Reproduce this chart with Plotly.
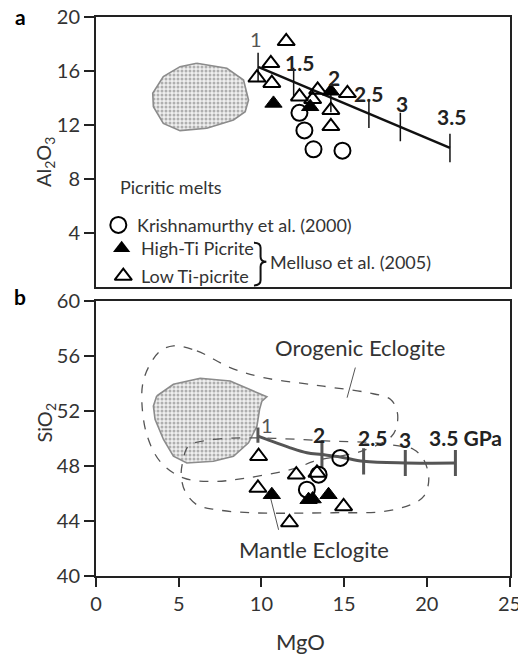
import plotly.graph_objects as go

# ---------------- data ----------------
# Panel a: Al2O3 vs MgO
krish_a_x = [12.3, 12.6, 13.15, 14.9]
krish_a_y = [12.9, 11.6, 10.2, 10.1]
hiTi_a_x = [10.73, 12.95, 14.2]
hiTi_a_y = [13.6, 13.35, 14.5]
loTi_a_x = [11.5, 10.57, 9.73, 10.63, 12.3, 13.4, 14.2, 14.2, 15.2, 13.1]
loTi_a_y = [18.2, 16.57, 15.5, 15.1, 14.1, 14.6, 13.1, 11.9, 14.35, 13.9]
melt_a_x = [9.8, 11.95, 14.2, 16.5, 18.4, 21.4]
melt_a_y = [16.3, 15.19, 14.0, 12.83, 11.85, 10.3]
press_labels = ["1", "1.5", "2", "2.5", "3", "3.5"]
field_a_x = [6.09, 7.91, 8.92, 9.22, 9.02, 8.31, 6.70, 5.08, 4.07, 3.47, 3.43, 4.07, 5.08, 6.09]
field_a_y = [16.57, 16.2, 15.33, 13.85, 12.99, 12.37, 11.76, 11.58, 12.12, 13.36, 14.35, 15.58, 16.32, 16.57]

# Panel b: SiO2 vs MgO
krish_b_x = [14.77, 13.46, 12.75]
krish_b_y = [48.59, 47.37, 46.28]
hiTi_b_x = [10.63, 12.85, 14.06, 13.1]
hiTi_b_y = [45.91, 45.55, 45.91, 45.6]
loTi_b_x = [9.83, 9.79, 12.11, 13.36, 14.97, 11.70]
loTi_b_y = [48.71, 46.40, 47.37, 47.50, 45.06, 43.89]
curve_b_x = [9.79, 10.33, 11.74, 12.75, 13.66, 14.77, 16.18, 18.7, 21.73]
curve_b_y = [50.17, 49.93, 49.32, 48.96, 48.83, 48.66, 48.34, 48.22, 48.22]
press_b_x = [9.79, 13.66, 16.18, 18.7, 21.73]
press_b_y = [50.25, 48.83, 48.34, 48.22, 48.22]
press_b_labels = ["1", "2", "2.5", "3", "3.5 GPa"]
field_b_x = [3.67, 4.68, 6.30, 8.11, 9.52, 10.33, 10.03, 9.89, 9.73, 9.22, 8.31, 7.10, 5.49, 4.68, 4.08, 3.57, 3.47, 3.67]
field_b_y = [53.09, 53.94, 54.38, 54.18, 53.45, 53.04, 52.72, 52.12, 50.90, 49.69, 48.71, 48.34, 48.22, 48.71, 49.93, 51.39, 52.36, 53.09]
orog_x = [4.68, 6.10, 8.11, 10.13, 12.95, 14.36, 16.39, 17.80, 18.20, 18.20, 17.86, 15.98, 13.15, 12.15, 9.12, 7.10, 5.28, 3.87, 3.07, 2.77, 2.86, 3.27, 3.87, 4.68]
orog_y = [56.74, 56.37, 55.16, 54.43, 53.94, 53.70, 53.34, 52.85, 51.99, 51.02, 50.15, 49.05, 48.34, 47.86, 47.13, 46.88, 47.13, 48.34, 50.29, 52.72, 54.18, 55.40, 56.35, 56.74]
mant_x = [5.69, 7.10, 9.32, 12.35, 14.35, 16.59, 18.40, 19.21, 19.81, 20.12, 19.81, 19.01, 17.37, 14.35, 9.32, 7.31, 6.10, 5.39, 5.15, 5.27, 5.45, 5.69]
mant_y = [49.56, 49.93, 50.05, 49.93, 49.80, 49.71, 49.44, 49.20, 48.47, 47.01, 45.79, 45.18, 44.69, 44.60, 44.60, 44.82, 45.18, 46.15, 47.37, 48.47, 49.20, 49.56]

x_ticks = [0, 5, 10, 15, 20, 25]
ya_ticks = [4, 8, 12, 16, 20]
yb_ticks = [40, 44, 48, 52, 56, 60]

FONT = "Lato"
OFF = 8                      # page body margin offset
W, H = 526 - OFF, 656 - OFF

def px(p):   # window x pixel -> paper x
    return (p - OFF) / W

def py(p):   # window y pixel -> paper y
    return 1 - (p - OFF) / H

xdom = [px(96), px(509.5)]
ya_dom = [py(287), py(17)]
yb_dom = [py(576), py(301)]

fig = go.Figure()

def add(tr, panel):
    if panel == "b":
        tr.update(xaxis="x2", yaxis="y2")
    fig.add_trace(tr)

stipple = dict(shape=".", size=4, solidity=0.45, fgcolor="#707070", bgcolor="#efefef")

for panel, fx, fy in (("a", field_a_x, field_a_y), ("b", field_b_x, field_b_y)):
    add(go.Scatter(x=fx, y=fy, mode="lines", fill="toself", fillpattern=stipple,
                   line=dict(color="#8c8c8c", width=1.6), hoverinfo="skip"), panel)

# dashed fields (panel b)
for fx, fy in ((orog_x, orog_y), (mant_x, mant_y)):
    add(go.Scatter(x=fx, y=fy, mode="lines", line=dict(color="#555", width=1.3, dash="dash", shape="spline"),
                   hoverinfo="skip"), "b")

# leader lines
add(go.Scatter(x=[15.68, 15.18], y=[55.16, 52.97], mode="lines", line=dict(color="#555", width=1)), "b")
add(go.Scatter(x=[11.04, 10.53], y=[43.36, 45.79], mode="lines", line=dict(color="#555", width=1)), "b")

# melt line panel a
add(go.Scatter(x=melt_a_x, y=melt_a_y, mode="lines", line=dict(color="#111", width=2.5)), "a")
tx, ty = [], []
for x, y in zip(melt_a_x, melt_a_y):
    tx += [x, x, None]
    ty += [y - 1.05, y + 1.05, None]
add(go.Scatter(x=tx, y=ty, mode="lines", line=dict(color="#111", width=1.5)), "a")

# melt curve panel b
add(go.Scatter(x=curve_b_x, y=curve_b_y, mode="lines", line=dict(color="#555", width=3, shape="spline")), "b")
tx, ty = [], []
for i, (x, y) in enumerate(zip(press_b_x, press_b_y)):
    h = 0.55 if i == 0 else 0.95
    tx += [x, x, None]
    ty += [y - h, y + h, None]
add(go.Scatter(x=tx, y=ty, mode="lines", line=dict(color="#555", width=3)), "b")

ms = 15
op = dict(color="black", width=2)
for panel, kx, ky, hx, hy, lx, ly in (("a", krish_a_x, krish_a_y, hiTi_a_x, hiTi_a_y, loTi_a_x, loTi_a_y),
                                      ("b", krish_b_x, krish_b_y, hiTi_b_x, hiTi_b_y, loTi_b_x, loTi_b_y)):
    add(go.Scatter(x=kx, y=ky, mode="markers",
                   marker=dict(symbol="circle-open", size=ms + 1, line=op, color="black")), panel)
    add(go.Scatter(x=lx, y=ly, mode="markers",
                   marker=dict(symbol="triangle-up-open", size=ms, line=op, color="black")), panel)
    add(go.Scatter(x=hx, y=hy, mode="markers",
                   marker=dict(symbol="triangle-up", size=ms, color="black", line=dict(color="black", width=1))), panel)

# legend symbols (panel a)
add(go.Scatter(x=[1.35], y=[4.6], mode="markers",
               marker=dict(symbol="circle-open", size=ms + 1, line=op, color="black")), "a")
add(go.Scatter(x=[1.55], y=[2.87], mode="markers",
               marker=dict(symbol="triangle-up", size=ms, color="black")), "a")
add(go.Scatter(x=[1.65], y=[0.81], mode="markers",
               marker=dict(symbol="triangle-up-open", size=ms, line=op, color="black")), "a")

ann = []
def text(x, y, s, ref="a", size=17, color="#333", bold=False, xanchor="center", **kw):
    xr, yr = ("x", "y") if ref == "a" else ("x2", "y2")
    if ref == "paper":
        xr = yr = "paper"
    d = dict(x=x, y=y, xref=xr, yref=yr, text=("<b>%s</b>" % s) if bold else s, showarrow=False,
             font=dict(family=FONT, size=size, color=color), xanchor=xanchor, yanchor="middle")
    d.update(kw)
    ann.append(d)

# pressure labels panel a
pa_pos = [(9.7, 18.4), (12.3, 16.6), (14.4, 15.5), (16.5, 14.3), (18.5, 13.6), (21.5, 12.6)]
for (x, y), s in zip(pa_pos, press_labels):
    text(x, y, s, "a", 20 if s == "1" else 21, "#555" if s == "1" else "#222", bold=(s != "1"))
pb_pos = [(10.33, 51.0), (13.46, 50.3), (16.7, 50.05), (18.7, 49.9), (22.34, 50.05)]
for (x, y), s in zip(pb_pos, press_b_labels):
    text(x, y, s, "b", 20 if s == "1" else 21, "#555" if s == "1" else "#222", bold=(s != "1"))

text(1.34, 7.4, "Picritic melts", "a", 18, xanchor="left")
text(2.36, 4.6, "Krishnamurthy et al. (2000)", "a", 18, xanchor="left")
text(2.6, 2.87, "High-Ti Picrite", "a", 18, xanchor="left")
text(2.6, 0.81, "Low Ti-picrite", "a", 18, xanchor="left")
text(10.41, 1.87, "Melluso et al. (2005)", "a", 18, xanchor="left")
text(15.98, 56.62, "Orogenic Eclogite", "b", 22)
text(13.15, 41.9, "Mantle Eclogite", "b", 22)

# panel letters and axis titles
text(px(20), py(17), "a", "paper", 21, "black", bold=True, height=17)
text(px(20), py(296), "b", "paper", 21, "black", bold=True)
text(px(300), py(641), "MgO", "paper", 22)
ann.append(dict(x=px(29), y=py(134), xref="paper", yref="paper", text="Al<sub>2</sub>O<sub>3</sub>",
                showarrow=False, textangle=-90, font=dict(family=FONT, size=20, color="#333")))
ann.append(dict(x=px(29), y=py(423), xref="paper", yref="paper", text="SiO<sub>2</sub>",
                showarrow=False, textangle=-90, font=dict(family=FONT, size=20, color="#333")))

# brace
shapes = [dict(type="path", xref="x", yref="y",
               path="M 9.55,3.28 Q 9.95,3.28 9.95,2.9 L 9.95,2.25 Q 9.95,1.87 10.3,1.87 "
                    "Q 9.95,1.87 9.95,1.5 L 9.95,0.5 Q 9.95,0.12 9.55,0.12",
               line=dict(color="#111", width=2))]

axis_common = dict(showline=True, linewidth=2, linecolor="#222", mirror=True, showgrid=False,
                   zeroline=False, automargin=False, ticklabeloverflow="allow",
                   tickfont=dict(family=FONT, size=20, color="#333"))

fig.update_layout(
    width=W, height=H, margin=dict(l=0, r=0, t=0, b=0, autoexpand=False),
    paper_bgcolor="white", plot_bgcolor="white", showlegend=False,
    annotations=ann, shapes=shapes,
    xaxis=dict(axis_common, domain=xdom, range=[0, 25], anchor="y", showticklabels=False, ticks=""),
    yaxis=dict(axis_common, domain=ya_dom, range=[0, 20], anchor="x", tickvals=ya_ticks,
               ticks="outside", ticklen=10, tickwidth=1.5, tickcolor="#222"),
    xaxis2=dict(axis_common, domain=xdom, range=[0, 25], anchor="y2", tickvals=x_ticks,
                ticks="outside", ticklen=9, tickwidth=1.5, tickcolor="#222"),
    yaxis2=dict(axis_common, domain=yb_dom, range=[40, 60], anchor="x2", tickvals=yb_ticks,
                ticks="outside", ticklen=10, tickwidth=1.5, tickcolor="#222"),
)

fig.write_html("out.html")
